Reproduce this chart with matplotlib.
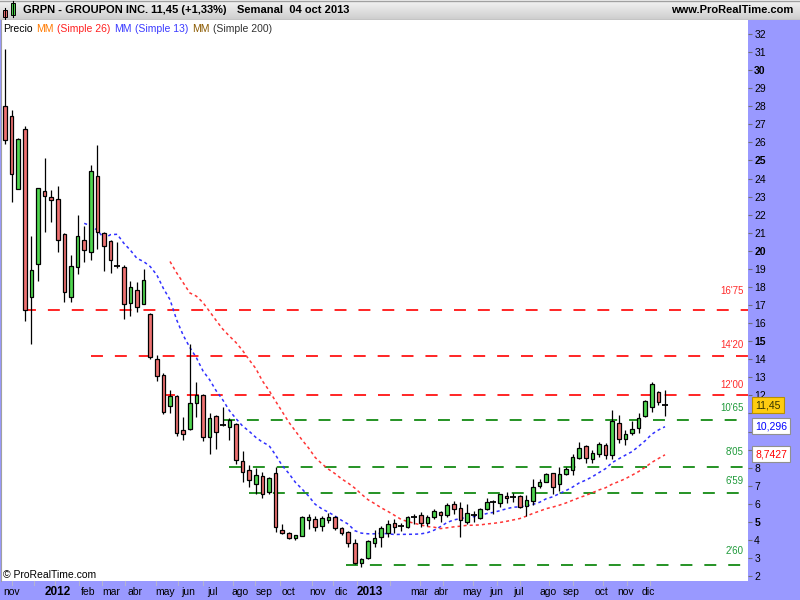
import matplotlib
matplotlib.use("Agg")
import matplotlib.pyplot as plt
from matplotlib.patches import Rectangle
from matplotlib.colors import LinearSegmentedColormap
import numpy as np
import pandas as pd

plt.rcParams['font.family'] = ['Liberation Sans', 'DejaVu Sans']
plt.rcParams['lines.scale_dashes'] = False

# GRPN weekly candles, first week of nov 2011 -> 04 oct 2013
opens = [28.00, 27.46, 23.41, 26.73, 17.43, 19.25, 23.31, 22.96, 22.85, 20.92,
         17.43, 19.09, 20.58, 19.92, 24.12, 20.97, 20.53, 19.20, 19.09, 17.10,
         17.82, 17.04, 16.50, 14.01, 13.11, 11.40, 11.95, 10.07, 10.16, 11.56,
         12.00, 9.68, 10.84, 10.38, 10.23, 10.40, 8.35, 7.85, 7.08, 7.52,
         6.64, 7.69, 4.53, 4.37, 4.09, 4.24, 5.09, 5.14, 4.76, 5.09,
         5.25, 4.65, 4.46, 3.82, 2.71, 2.99, 3.82, 4.15, 4.37, 4.92,
         4.80, 4.70, 5.28, 5.36, 4.92, 5.25, 5.53, 5.36, 5.97, 5.75,
         4.98, 5.37, 5.20, 5.70, 6.07, 6.03, 6.42, 6.37, 6.42, 5.86,
         6.14, 6.97, 7.22, 7.69, 7.08, 7.63, 7.86, 8.52, 9.18, 8.47,
         8.74, 9.24, 8.69, 10.46, 9.57, 9.90, 10.18, 10.84, 11.34, 12.17,
         11.43]
highs = [31.15, 27.80, 26.26, 26.91, 20.82, 23.46, 25.14, 23.37, 23.59, 20.97,
         19.77, 21.98, 21.37, 24.73, 25.84, 21.03, 20.58, 20.47, 19.20, 18.31,
         18.26, 18.98, 16.55, 14.22, 13.22, 12.30, 12.00, 10.82, 14.84, 12.74,
         12.10, 11.01, 10.90, 11.36, 10.73, 10.45, 8.91, 8.13, 7.97, 7.75,
         7.50, 8.02, 4.87, 4.45, 4.26, 5.30, 5.42, 5.30, 5.31, 5.48,
         5.30, 4.73, 4.50, 4.04, 3.00, 4.00, 4.53, 4.76, 5.09, 5.14,
         4.95, 5.34, 5.42, 5.53, 5.36, 5.70, 5.59, 6.03, 6.14, 6.08,
         5.97, 5.59, 5.75, 6.31, 6.19, 6.55, 6.64, 6.58, 6.47, 6.47,
         7.36, 7.36, 7.72, 7.72, 8.02, 8.02, 8.74, 9.40, 9.24, 8.97,
         9.40, 9.35, 11.18, 10.90, 10.07, 10.57, 11.01, 11.73, 12.73, 12.22,
         12.28]
lows = [25.90, 22.72, 23.41, 16.13, 14.83, 18.35, 21.06, 21.61, 19.95, 17.19,
        17.19, 18.70, 19.37, 19.48, 20.09, 18.87, 18.76, 19.07, 16.21, 16.38,
        16.60, 17.04, 14.00, 12.81, 10.97, 11.04, 9.77, 9.55, 10.07, 10.82,
        9.49, 8.74, 9.03, 10.31, 9.55, 8.19, 7.19, 6.95, 6.53, 6.31,
        6.53, 4.46, 4.31, 4.05, 3.98, 4.20, 4.59, 4.51, 4.51, 4.92,
        4.55, 4.27, 3.63, 2.65, 2.52, 2.95, 3.63, 3.63, 4.18, 4.37,
        4.51, 4.65, 4.87, 4.73, 4.79, 5.14, 4.98, 5.25, 5.42, 4.18,
        4.87, 4.98, 5.18, 5.64, 5.42, 5.84, 6.03, 6.08, 5.75, 5.31,
        5.92, 6.86, 7.20, 6.53, 6.73, 7.60, 7.58, 8.50, 8.24, 8.24,
        8.57, 8.47, 8.47, 9.35, 9.24, 9.79, 9.90, 10.80, 11.07, 11.45,
        10.84]
closes = [26.13, 24.24, 26.19, 16.71, 18.94, 23.46, 23.02, 22.80, 20.58, 17.74,
          19.14, 20.80, 20.03, 24.40, 21.03, 20.25, 19.48, 19.18, 17.04, 17.98,
          16.88, 18.37, 14.14, 13.09, 11.10, 11.95, 9.94, 9.85, 11.56, 12.00,
          9.68, 10.73, 9.99, 10.36, 10.64, 8.41, 7.74, 7.33, 7.58, 6.53,
          7.41, 4.70, 4.40, 4.09, 4.26, 5.25, 5.25, 4.70, 5.20, 5.25,
          4.65, 4.40, 3.82, 2.71, 2.93, 3.93, 4.09, 4.65, 4.87, 4.73,
          4.79, 5.25, 5.29, 4.92, 5.25, 5.59, 5.36, 5.92, 5.70, 5.09,
          5.48, 5.38, 5.70, 6.08, 6.08, 6.53, 6.31, 6.36, 5.81, 6.19,
          6.91, 7.19, 7.63, 6.91, 7.63, 7.91, 8.59, 9.07, 8.52, 8.80,
          9.29, 8.69, 10.57, 9.57, 9.85, 10.12, 10.73, 11.67, 12.61, 11.62,
          11.45]

# support / resistance levels drawn on the chart
levels = [16.75, 14.20, 12.00, 10.65, 8.05, 6.59, 2.60]
level_labels = ["16'75", "14'20", "12'00", "10'65", "8'05", "6'59", "2'60"]

# last values shown in the price scale
last_texts = ["11,45", "10,296", "8,7427"]
last_prices = [11.45, 10.296, 8.7427]

# price scale labels (9, 10 and 11 sit under the value boxes)
scale_ticks = list(range(2, 33))
hidden_ticks = [9, 10, 11]

month_labels = ['nov', '2012', 'feb', 'mar', 'abr', 'may', 'jun', 'jul', 'ago', 'sep',
                'oct', 'nov', 'dic', '2013', 'mar', 'abr', 'may', 'jun', 'jul', 'ago',
                'sep', 'oct', 'nov', 'dic']

W, H = 800, 600
PURPLE = '#9999ff'


def fx(px):
    return px / W


def fy(py):
    return 1 - py / H


# x pixel of first candle and spacing between weekly candles
X_FIRST, STEP = 5.0, 6.6


def idx(px):
    return (px - X_FIRST) / STEP


fig = plt.figure(figsize=(8, 6), dpi=100, facecolor=PURPLE)

ax = fig.add_axes([fx(1), fy(581), fx(748) - fx(1), fy(20) - fy(581)])
ax.set_facecolor('white')
ax.set_xlim(idx(1), idx(748))
ax.set_ylim(1.729, 32.775)

# candles
bw = 0.55
for i in range(len(closes)):
    o, h, l, c = opens[i], highs[i], lows[i], closes[i]
    ax.vlines(i, l, h, color='black', lw=0.9, zorder=3)
    if abs(c - o) < 0.06:
        ax.hlines(c, i - 0.45, i + 0.45, color='black', lw=1.3, zorder=4)
    else:
        col = '#4fd64f' if c > o else '#ee7272'
        ax.add_patch(Rectangle((i - bw / 2, min(o, c)), bw, abs(c - o),
                               facecolor=col, edgecolor='black', lw=0.9, zorder=4))

# moving averages (simple 13 / simple 26 on close)
s = pd.Series(closes)
xs = np.arange(len(closes))
ax.plot(xs, s.rolling(13).mean(), color='#3030ff', lw=1.1, dashes=(2.2, 2.2), zorder=2)
ax.plot(xs, s.rolling(26).mean(), color='#ff3535', lw=1.1, dashes=(2.2, 2.2), zorder=2)

# horizontal levels
level_colors = ['#ff0000'] * 3 + ['#008000'] * 4
text_colors = ['#ff2a2a'] * 3 + ['#1f9a3a'] * 4
level_start = [2.9, 13.0, 24.0, 33.0, 34.0, 37.0, 51.7]
label_gap = [19, 11, 10, 12, 15, 12, 14]
for lv, lab, lc, tc, st, gap in zip(levels, level_labels, level_colors, text_colors,
                                    level_start, label_gap):
    ax.plot([st, idx(748)], [lv, lv], color=lc, lw=1.2, dashes=(8.6, 8.6), zorder=1)
    ax.annotate(lab, xy=(1, lv), xycoords=('axes fraction', 'data'),
                xytext=(-4, gap), textcoords='offset pixels',
                ha='right', va='center', fontsize=7, color=tc)

# price scale
ax.yaxis.tick_right()
ax.set_yticks(scale_ticks)
ax.set_yticklabels(['' if t in hidden_ticks else str(t) for t in scale_ticks])
for lab, t in zip(ax.get_yticklabels(), scale_ticks):
    if t % 5 == 0:
        lab.set_fontweight('bold')
ax.tick_params(axis='y', direction='out', length=3, width=0.8, color='#707070',
               labelsize=7.5, pad=1.5, labelcolor='black')
ax.set_xticks([])
for sp in ['top', 'right', 'bottom']:
    ax.spines[sp].set_visible(False)
ax.spines['left'].set_color('#a0a0a0')

box_styles = [dict(fc='#ffcc11', ec='#b89000', tc='#333300'),
              dict(fc='white', ec='#909090', tc='#0000ff'),
              dict(fc='white', ec='#909090', tc='#ff0000')]
for txt, pr, bs in zip(last_texts, last_prices, box_styles):
    ax.annotate(txt, xy=(1, pr), xycoords=('axes fraction', 'data'),
                xytext=(7, 0), textcoords='offset pixels', ha='left', va='center',
                fontsize=7.5, color=bs['tc'], annotation_clip=False, zorder=10,
                bbox=dict(boxstyle='square,pad=0.3', fc=bs['fc'], ec=bs['ec'], lw=0.8))

# legend line
t = fig.text(fx(3), fy(29), 'Precio', fontsize=7.5, color='black', va='center')
parts = [('MM', '#ff7a00'), ('(Simple 26)', '#ff2020'), ('MM', '#3a3aff'),
         ('(Simple 13)', '#3a3aff'), ('MM', '#8b5a00'), ('(Simple 200)', '#333333')]
for i, (txt, col) in enumerate(parts):
    gap = 3 if i % 2 == 1 else 4
    t = ax.annotate(txt, xy=(1, 0.5), xycoords=t, xytext=(gap, 0),
                    textcoords='offset pixels', va='center', ha='left',
                    fontsize=7.5, color=col, annotation_clip=False)

fig.text(fx(3), fy(575), '\u00a9 ProRealTime.com', fontsize=7.5, color='black', va='center')

# date band
tick_px = [12, 34, 55, 79, 102, 125, 156, 178, 203, 233, 255, 280, 312, 333, 357,
           390, 420, 443, 473, 497, 520, 549, 573, 603, 627, 650]
label_px = [3, 45, 81, 102, 127, 155, 181, 207, 232, 256, 282, 309, 335, 357,
            410, 434, 462, 489, 513, 540, 563, 595, 617, 642]
for p in tick_px:
    fig.add_artist(plt.Line2D([fx(p), fx(p)], [fy(581), fy(585)], color='#b4b4d0', lw=0.8))
for p, lab in zip(label_px, month_labels):
    bold = lab.isdigit()
    fig.text(fx(p), fy(592), lab, fontsize=8.5 if bold else 7.5,
             fontweight='bold' if bold else 'normal', ha='left', va='center', color='black')

# header bar
hd = fig.add_axes([0, fy(20), 1, fy(0) - fy(20)])
hd.set_xlim(0, W)
hd.set_ylim(20, 0)
hd.axis('off')
cmap = LinearSegmentedColormap.from_list('hdr', ['#f4f4f4', '#cdcdcd'])
hd.imshow(np.linspace(0, 1, 20).reshape(-1, 1), extent=(0, W, 20, 0), cmap=cmap,
          aspect='auto', origin='upper')
hd.plot([0, W], [0.5, 0.5], color='#a0a0a0', lw=1)
hd.plot([0, W], [19.5, 19.5], color='#a0a0a0', lw=1)
hd.plot([5, 5], [8, 19], color='black', lw=0.8)
hd.add_patch(Rectangle((3, 10), 4, 7, fc='#ee7272', ec='black', lw=0.7))
hd.plot([13, 13], [1, 17], color='black', lw=0.8)
hd.add_patch(Rectangle((11, 3), 4, 12, fc='#4fd64f', ec='black', lw=0.7))
hd.text(23, 10, 'GRPN - GROUPON INC.', fontsize=8, fontweight='bold', va='center')
hd.text(151, 10, '11,45 (+1,33%)', fontsize=8, fontweight='bold', va='center')
hd.text(237, 10, 'Semanal  04 oct 2013', fontsize=8, fontweight='bold', va='center')
hd.text(793, 10, 'www.ProRealTime.com', fontsize=8, fontweight='bold', va='center', ha='right')

fig.savefig('out.png', dpi=100, facecolor=fig.get_facecolor())
